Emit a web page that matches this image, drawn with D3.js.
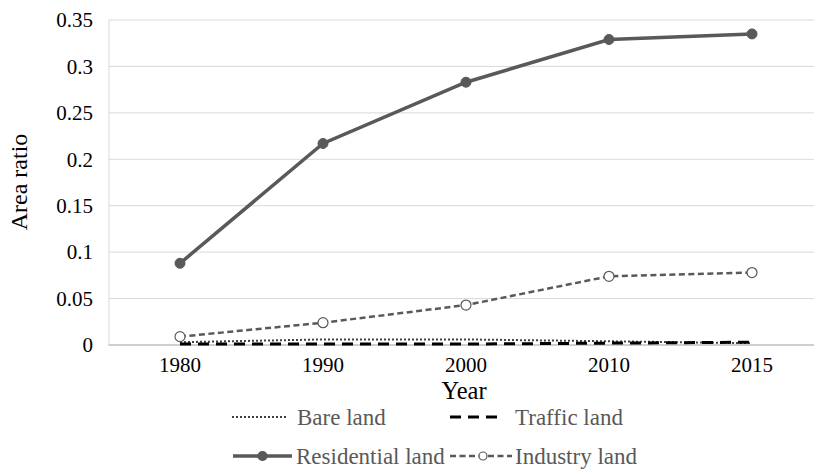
<!DOCTYPE html>
<html>
<head>
<meta charset="utf-8">
<script src="https://cdn.jsdelivr.net/npm/d3@7"></script>
<style>
  body { margin: 0; background: #fff; }
  svg { display: block; }
</style>
</head>
<body>
<div id="chart"></div>
<script>
// data
const years = ["1980", "1990", "2000", "2010", "2015"];
const bareLand = [0.003, 0.006, 0.006, 0.004, 0.002];
const trafficLand = [0.001, 0.001, 0.001, 0.002, 0.003];
const residentialLand = [0.088, 0.217, 0.283, 0.329, 0.335];
const industryLand = [0.009, 0.024, 0.043, 0.074, 0.078];
const yTicks = [0, 0.05, 0.1, 0.15, 0.2, 0.25, 0.3, 0.35];

const width = 814, height = 470;
const FONT = "Liberation Serif";
// plot box (right side runs past the picture edge)
const plot = { left: 108.5, right: 823.5, top: 20, bottom: 345 };

const svg = d3.select("#chart").append("svg")
    .attr("width", width)
    .attr("height", height);

const x = d3.scaleBand().domain(years).range([plot.left, plot.right]);
const y = d3.scaleLinear().domain([0, 0.35]).range([plot.bottom, plot.top]);
const cx = d => x(d) + x.bandwidth() / 2;

// gridlines
svg.append("g").selectAll("line")
    .data(yTicks.filter(t => t > 0))
    .enter().append("line")
    .attr("x1", plot.left).attr("x2", width)
    .attr("y1", d => y(d)).attr("y2", d => y(d))
    .attr("stroke", "#d9d9d9").attr("stroke-width", 1);

// left border + bottom axis line
svg.append("line")
    .attr("x1", plot.left + 0.5).attr("x2", plot.left + 0.5)
    .attr("y1", plot.top).attr("y2", plot.bottom)
    .attr("stroke", "#d9d9d9");
svg.append("line")
    .attr("x1", plot.left).attr("x2", width)
    .attr("y1", plot.bottom).attr("y2", plot.bottom)
    .attr("stroke", "#bfbfbf").attr("stroke-width", 1.5);

// y tick labels
svg.append("g").selectAll("text")
    .data(yTicks)
    .enter().append("text")
    .attr("x", 93)
    .attr("y", d => y(d))
    .attr("dy", "0.35em")
    .attr("text-anchor", "end")
    .attr("font-family", FONT)
    .attr("font-size", 21)
    .attr("fill", "#000")
    .text(d => String(+d.toFixed(2)));

// x tick labels
svg.append("g").selectAll("text")
    .data(years)
    .enter().append("text")
    .attr("x", d => cx(d))
    .attr("y", 372)
    .attr("text-anchor", "middle")
    .attr("font-family", FONT)
    .attr("font-size", 21)
    .attr("fill", "#000")
    .text(d => d);

// axis titles
svg.append("text")
    .attr("x", 464).attr("y", 399)
    .attr("text-anchor", "middle")
    .attr("font-family", FONT)
    .attr("font-size", 24.5)
    .text("Year");
svg.append("text")
    .attr("transform", "translate(27,182) rotate(-90)")
    .attr("text-anchor", "middle")
    .attr("font-family", FONT)
    .attr("font-size", 24)
    .text("Area ratio");

// series
const series = [
    { name: "Bare land", values: bareLand, color: "#404040", width: 2, dash: "2,2", marker: null },
    { name: "Traffic land", values: trafficLand, color: "#000", width: 3, dash: "11,7", marker: null },
    { name: "Residential land", values: residentialLand, color: "#595959", width: 3.5, dash: null, marker: "filled" },
    { name: "Industry land", values: industryLand, color: "#595959", width: 2.5, dash: "6,3.5", marker: "open" }
];

const line = d3.line()
    .x((d, i) => cx(years[i]))
    .y(d => y(d));

series.forEach(s => {
    svg.append("path")
        .datum(s.values)
        .attr("d", line)
        .attr("fill", "none")
        .attr("stroke", s.color)
        .attr("stroke-width", s.width)
        .attr("stroke-dasharray", s.dash);
    if (s.marker) {
        svg.append("g").selectAll("circle")
            .data(s.values)
            .enter().append("circle")
            .attr("cx", (d, i) => cx(years[i]))
            .attr("cy", d => y(d))
            .attr("r", 5)
            .attr("fill", s.marker === "filled" ? s.color : "#fff")
            .attr("stroke", s.color)
            .attr("stroke-width", s.marker === "filled" ? 1 : 1.2);
    }
});

// legend
const legendPos = [
    { x: 232, y: 417, x2: 288, textX: 297 },
    { x: 450, y: 417, x2: 498, textX: 515 },
    { x: 233, y: 456, x2: 292, textX: 296 },
    { x: 450, y: 456, x2: 512, textX: 515 }
];
const lg = svg.append("g");
series.forEach((s, i) => {
    const p = legendPos[i];
    lg.append("line")
        .attr("x1", p.x).attr("x2", p.x2)
        .attr("y1", p.y).attr("y2", p.y)
        .attr("stroke", s.color)
        .attr("stroke-width", s.width)
        .attr("stroke-dasharray", s.dash);
    if (s.marker) {
        lg.append("circle")
            .attr("cx", (p.x + p.x2) / 2 + (s.marker === "open" ? 2 : 0)).attr("cy", p.y)
            .attr("r", s.marker === "filled" ? 4.5 : 4)
            .attr("fill", s.marker === "filled" ? s.color : "#fff")
            .attr("stroke", s.color)
            .attr("stroke-width", 1.2);
    }
    lg.append("text")
        .attr("x", p.textX).attr("y", p.y)
        .attr("dy", "0.35em")
        .attr("font-family", FONT)
        .attr("font-size", 23)
        .attr("fill", "#595959")
        .text(s.name);
});
</script>
</body>
</html>
